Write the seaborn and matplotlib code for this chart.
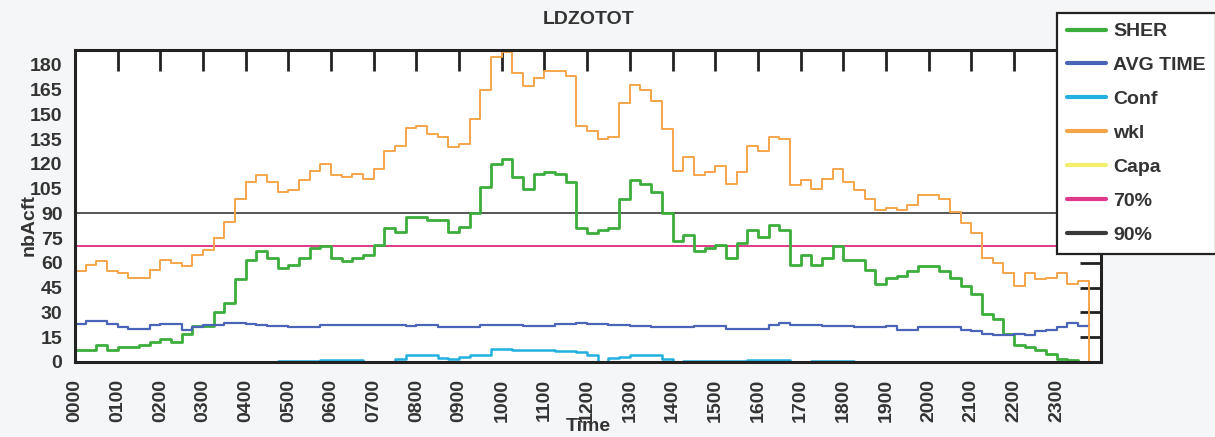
import numpy as np
import pandas as pd
import matplotlib
matplotlib.use("Agg")
import matplotlib.pyplot as plt
import seaborn as sns

# ---------------- data (quarter-hour slots, 0000 .. 2345) ----------------
slot_hours = np.arange(96) * 0.25

sher = [7.5, 7.5, 10, 7, 9, 9, 10, 12, 14, 12, 17, 22, 22, 30, 36, 50,
        62, 67, 63, 57, 59, 63, 69, 70, 63, 61, 63, 65, 71, 81, 79, 88,
        88, 86, 86, 79, 82, 90, 106, 120, 123, 112, 105, 114, 115, 114, 109, 81,
        78, 80, 81, 99, 110, 108, 103, 90, 73, 77, 67, 69, 71, 63, 72, 80,
        76, 83, 80, 59, 65, 59, 63, 70, 62, 62, 56, 47, 51, 52, 55, 58,
        58, 55, 51, 46, 41, 29, 26, 17, 10, 9, 7, 5, 2, 1, 0, 0]

avg_time = [23, 24.7, 24.7, 23.3, 21.3, 20, 20, 22.3, 23.3, 23.3, 19.2, 21, 22.3, 22.3, 23.7, 23.7,
            23, 22.5, 22, 22, 21.5, 21.5, 21.5, 22.5, 22.5, 22.5, 22.5, 22.5, 22.5, 22.5, 22.5, 22,
            22.3, 22.3, 21, 21, 21, 21, 22.3, 22.3, 22.3, 22.3, 21.7, 21.7, 21.7, 22.9, 22.9, 23.7,
            23.3, 23.3, 22.3, 22.3, 21.7, 21.7, 20.9, 20.9, 20.9, 20.9, 21.7, 21.7, 21.7, 20.2, 20.2, 20.2,
            20.2, 22.3, 23.7, 22.3, 22.3, 22.3, 21.7, 21.7, 21.7, 21.3, 21.3, 21.3, 21.7, 19.2, 19.2, 20.9,
            21, 21, 21, 19.5, 18.5, 17, 16.5, 16.5, 17, 16.5, 19, 19.5, 21.5, 23.5, 22, 23.3]

conf = [0, 0, 0, 0, 0, 0, 0, 0, 0, 0, 0, 0, 0, 0, 0, 0,
        0, 0, 0, 0.5, 0.5, 0.5, 0.5, 1.5, 1.5, 1.5, 1.5, 0, 0, 0, 2, 4,
        4.5, 4.5, 2.5, 2, 3, 4, 4, 8, 8, 7.5, 7, 7, 7, 6.5, 6.5, 6,
        4, 0, 2.5, 3, 4, 4, 4, 2, 0, 0.5, 0.5, 0.5, 0.5, 0.5, 0.5, 1.5,
        1.5, 1.5, 1.5, 0, 0, 0.6, 0.6, 0.6, 0.6, 0, 0, 0, 0, 0, 0, 0,
        0, 0, 0, 0, 0, 0, 0, 0, 0, 0, 0, 0, 0, 0, 0, 0]

wkl = [55, 59, 61, 55, 54, 51, 51, 56, 62, 60, 58, 65, 68, 75, 85, 99,
       109, 113, 109, 103, 104, 110, 116, 120, 113, 112, 114, 111, 117, 128, 131, 142,
       143, 138, 136, 130, 132, 147, 165, 185, 188, 175, 167, 172, 176, 176, 173, 143,
       140, 135, 136, 157, 168, 165, 158, 141, 116, 124, 113, 115, 119, 108, 115, 131,
       128, 136, 135, 107, 110, 105, 111, 117, 109, 104, 99, 92, 93, 92, 95, 101,
       101, 99, 91, 84, 78, 63, 60, 54, 46, 54, 50, 51, 54, 47, 49, 0]

threshold_70 = 70
threshold_90 = 90

hour_labels = ["0000", "0100", "0200", "0300", "0400", "0500", "0600", "0700",
               "0800", "0900", "1000", "1100", "1200", "1300", "1400", "1500",
               "1600", "1700", "1800", "1900", "2000", "2100", "2200", "2300"]
y_ticks = [0, 15, 30, 45, 60, 75, 90, 105, 120, 135, 150, 165, 180]

# ---------------- style ----------------
sns.set_style("white")
plt.rcParams["font.family"] = ["Liberation Sans", "DejaVu Sans"]
plt.rcParams["font.weight"] = "bold"

TXT = "#333333"
colors = {
    "SHER": "#3cae3c",
    "AVG TIME": "#4a64b8",
    "Conf": "#22b0e0",
    "wkl": "#f4a54a",
    "Capa": "#f2f06a",
    "70%": "#e0388a",
    "90%": "#3a3a3a",
}

fig = plt.figure(figsize=(12.15, 4.37), dpi=100, facecolor="#f5f6f7")
ax = fig.add_axes([75 / 1215, 1 - 362 / 437, (1101 - 75) / 1215, (362 - 50) / 437])
ax.set_facecolor("white")

df = pd.DataFrame({"t": slot_hours, "SHER": sher, "AVG TIME": avg_time,
                   "Conf": conf, "wkl": wkl})

widths = {"SHER": 2.0, "AVG TIME": 1.6, "Conf": 1.8, "wkl": 1.4}
for name in ["SHER", "AVG TIME", "Conf", "wkl"]:
    sns.lineplot(data=df, x="t", y=name, ax=ax, color=colors[name],
                 lw=widths[name], drawstyle="steps-post", label=name,
                 errorbar=None, estimator=None, zorder=2)

ax.plot([], [], color=colors["Capa"], lw=2.0, label="Capa")
ax.axhline(threshold_70, color=colors["70%"], lw=1.4, label="70%", zorder=1.5)
ax.axhline(threshold_90, color=colors["90%"], lw=1.2, label="90%", zorder=1.5)

if ax.get_legend() is not None:
    ax.get_legend().remove()

ax.set_xlim(0, 24.04)
ax.set_ylim(0, 189)
ax.set_xticks(np.arange(len(hour_labels)))
ax.set_xticklabels(hour_labels, rotation=90, fontsize=14, fontweight="bold", color=TXT)
ax.set_yticks(y_ticks)
ax.set_yticklabels([str(v) for v in y_ticks], fontsize=14, fontweight="bold", color=TXT)

ax.tick_params(axis="both", which="major", direction="in", length=15, width=2,
               color="#222222", top=True, right=True)
ax.tick_params(axis="x", pad=12)
ax.tick_params(axis="y", pad=9)
for s in ax.spines.values():
    s.set_visible(True)
    s.set_color("#222222")
    s.set_linewidth(2.2)
    s.set_zorder(3)

ax.set_xlabel("Time", fontsize=14, fontweight="bold", color=TXT)
ax.xaxis.set_label_coords(0.5, -0.178)
ax.set_ylabel("nbAcft", fontsize=14, fontweight="bold", color=TXT)
ax.yaxis.set_label_coords(-0.036, 0.44)

fig.text(589 / 1215, 1 - 20 / 437, "LDZOTOT", ha="center", va="center",
         fontsize=14, fontweight="bold", color=TXT)

handles, labels = ax.get_legend_handles_labels()
order = ["SHER", "AVG TIME", "Conf", "wkl", "Capa", "70%", "90%"]
hmap = dict(zip(labels, handles))
leg = fig.legend([hmap[k] for k in order], order, loc="upper left",
                 bbox_to_anchor=(1057 / 1215, 1 - 13 / 437), bbox_transform=fig.transFigure,
                 frameon=True, fancybox=False, shadow=False, fontsize=14,
                 handlelength=2.0, handletextpad=0.4, labelspacing=0.84,
                 borderpad=0.5, borderaxespad=0)
leg.get_frame().set_edgecolor("#222222")
leg.get_frame().set_linewidth(1.6)
leg.get_frame().set_facecolor("white")
leg.get_frame().set_alpha(1)
for t in leg.get_texts():
    t.set_color(TXT)
    t.set_fontweight("bold")
for l in leg.get_lines():
    l.set_linewidth(3)

fig.savefig("out.png", dpi=100, facecolor=fig.get_facecolor())
